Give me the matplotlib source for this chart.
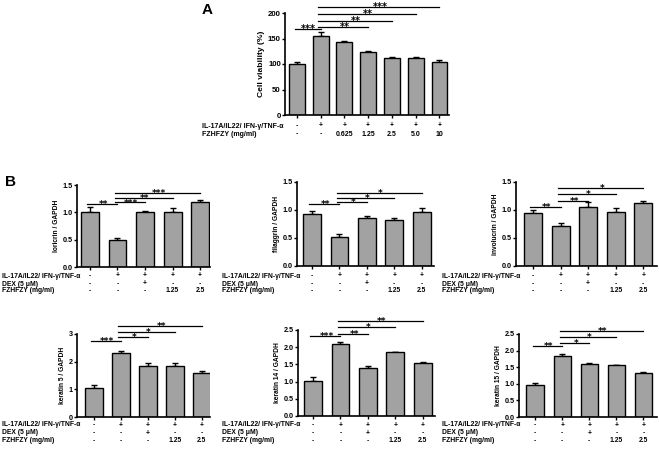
import numpy as np
import matplotlib
matplotlib.use("Agg")
import matplotlib.pyplot as plt
from matplotlib.transforms import blended_transform_factory

plt.rcParams['font.family'] = ['Liberation Sans', 'DejaVu Sans']
plt.rcParams['font.weight'] = 'bold'

W, H = 659, 449

# Panel A data
a_vals = [100, 155, 143, 124, 111, 111, 103]
a_err = [3, 7, 3, 2, 2, 3, 4]
a_row1 = ['-', '+', '+', '+', '+', '+', '+']
a_row2 = ['-', '-', '0.625', '1.25', '2.5', '5.0', '10']
a_sig = [(0, 1, 168, '***'), (1, 3, 173, '**'), (1, 4, 185, '**'),
         (1, 5, 198, '**'), (1, 6, 212, '***')]

# Panel B data
b_row1 = ['-', '+', '+', '+', '+']
b_row2 = ['-', '-', '+', '-', '-']
b_row3 = ['-', '-', '-', '1.25', '2.5']

lor_vals = [1.0, 0.5, 1.0, 1.0, 1.18]
lor_err = [0.09, 0.03, 0.02, 0.08, 0.04]
lor_sig = [(0, 1, 1.15, '**'), (1, 2, 1.18, '***'), (1, 3, 1.26, '**'), (1, 4, 1.35, '***')]

fil_vals = [0.93, 0.52, 0.86, 0.83, 0.96]
fil_err = [0.05, 0.05, 0.04, 0.03, 0.08]
fil_sig = [(0, 1, 1.10, '**'), (1, 2, 1.14, '*'), (1, 3, 1.22, '*'), (1, 4, 1.31, '*')]

inv_vals = [0.95, 0.72, 1.05, 0.97, 1.12]
inv_err = [0.05, 0.05, 0.09, 0.06, 0.04]
inv_sig = [(0, 1, 1.05, '**'), (1, 2, 1.16, '**'), (1, 3, 1.28, '*'), (1, 4, 1.39, '*')]

k5_vals = [1.05, 2.33, 1.86, 1.86, 1.6]
k5_err = [0.1, 0.07, 0.08, 0.08, 0.05]
k5_sig = [(0, 1, 2.76, '***'), (1, 2, 2.89, '*'), (1, 3, 3.09, '*'), (1, 4, 3.28, '**')]

k14_vals = [1.02, 2.1, 1.4, 1.85, 1.55]
k14_err = [0.1, 0.05, 0.05, 0.02, 0.02]
k14_sig = [(0, 1, 2.33, '***'), (1, 2, 2.38, '**'), (1, 3, 2.59, '*'), (1, 4, 2.77, '**')]

k15_vals = [0.95, 1.85, 1.6, 1.56, 1.33]
k15_err = [0.08, 0.06, 0.03, 0.02, 0.04]
k15_sig = [(0, 1, 2.14, '**'), (1, 2, 2.23, '*'), (1, 3, 2.41, '*'), (1, 4, 2.59, '**')]

fig = plt.figure(figsize=(W / 100, H / 100), dpi=100)


def fy(py):
    return 1 - py / H


def make_ax(l, r, b, t):
    return fig.add_axes([l / W, 1 - b / H, (r - l) / W, (b - t) / H])


def bar_panel(ax, vals, err, sig, ylabel, yticks, ticklabels, xlim, width, fs_tick, fs_lab, fs_star):
    x = np.arange(len(vals))
    ax.bar(x, vals, width=width, color='#a2a2a2', edgecolor='black', linewidth=1.0, zorder=2)
    ax.errorbar(x, vals, yerr=[np.zeros(len(err)), err], fmt='none', ecolor='black',
                elinewidth=1.0, capsize=2.5, capthick=1.0, zorder=1)
    ax.set_xlim(*xlim)
    ax.set_ylim(0, yticks[-1])
    ax.set_yticks(yticks)
    ax.set_yticklabels(ticklabels, fontsize=fs_tick, fontweight='bold')
    ax.set_xticks(x)
    ax.set_xticklabels([])
    ax.set_ylabel(ylabel, fontsize=fs_lab, fontweight='bold', labelpad=2)
    for s in ['top', 'right']:
        ax.spines[s].set_visible(False)
    for s in ['left', 'bottom']:
        ax.spines[s].set_linewidth(1.2)
    ax.tick_params(axis='both', length=2, width=1, pad=1)
    for i, j, y, star in sig:
        ax.plot([i - 0.1, j], [y, y], color='black', lw=0.9, clip_on=False)
        ax.annotate(star, xy=((i + j) / 2, y), xytext=(0, -2.2), textcoords='offset points',
                    ha='center', va='baseline', fontsize=fs_star, fontweight='bold',
                    family='DejaVu Sans', annotation_clip=False)


def row_labels(ax, labels, rows, ys, xlab, fs):
    tr = blended_transform_factory(ax.transData, fig.transFigure)
    for name, vals, y in zip(labels, rows, ys):
        fig.text(xlab / W, fy(y), name, fontsize=fs, fontweight='bold', va='center', ha='left')
        for k, v in enumerate(vals):
            ax.text(k, fy(y), v, transform=tr, fontsize=fs, fontweight='bold',
                    ha='center', va='center')


# Panel A
axA = make_ax(285, 449, 115, 13)
bar_panel(axA, a_vals, a_err, a_sig, 'Cell viability (%)', [0, 50, 100, 150, 200],
          ['0', '50', '100', '150', '200'], (-0.5, 6.4), 0.67, 5.6, 6.1, 7)
row_labels(axA, ['IL-17A/IL22/ IFN-γ/TNF-α', 'FZHFZY (mg/ml)'], [a_row1, a_row2],
           [126, 134], 202, 5.0)
fig.text(207 / W, fy(10), 'A', fontsize=11, fontweight='bold', ha='center', va='center')
fig.text(10 / W, fy(182), 'B', fontsize=11, fontweight='bold', ha='center', va='center')

b_names = ['IL-17A/IL22/ IFN-γ/TNF-α', 'DEX (5 μM)', 'FZHFZY (mg/ml)']
b_rows = [b_row1, b_row2, b_row3]
t1 = [0, 0.5, 1.0, 1.5]
t1l = ['0.0', '0.5', '1.0', '1.5']
t25 = [0, 0.5, 1.0, 1.5, 2.0, 2.5]
t25l = ['0.0', '0.5', '1.0', '1.5', '2.0', '2.5']

panels = [
    ((77, 210, 267, 185), lor_vals, lor_err, lor_sig, 'loricrin / GAPDH', t1, t1l, (-0.47, 4.36), [276, 284, 291], 2),
    ((297, 434, 266, 182), fil_vals, fil_err, fil_sig, 'filaggrin / GAPDH', t1, t1l, (-0.55, 4.45), [276, 284, 291], 222),
    ((516, 657, 266, 182), inv_vals, inv_err, inv_sig, 'involucrin / GAPDH', t1, t1l, (-0.62, 4.5), [276, 284, 291], 442),
    ((77, 210, 417, 334), k5_vals, k5_err, k5_sig, 'keratin 5 / GAPDH', [0, 1, 2, 3], ['0', '1', '2', '3'], (-0.62, 4.3), [425, 433, 441], 2),
    ((298, 435, 416, 330), k14_vals, k14_err, k14_sig, 'keratin 14 / GAPDH', t25, t25l, (-0.55, 4.45), [425, 433, 441], 222),
    ((519, 657, 417, 334), k15_vals, k15_err, k15_sig, 'keratin 15 / GAPDH', t25, t25l, (-0.6, 4.5), [425, 433, 441], 442),
]

for box, vals, err, sig, lab, ticks, tlabs, xlim, ys, xlab in panels:
    ax = make_ax(*box)
    bar_panel(ax, vals, err, sig, lab, ticks, tlabs, xlim, 0.65, 5.2, 4.8, 6.5)
    row_labels(ax, b_names, b_rows, ys, xlab, 4.9)

fig.savefig('out.png', dpi=100)
